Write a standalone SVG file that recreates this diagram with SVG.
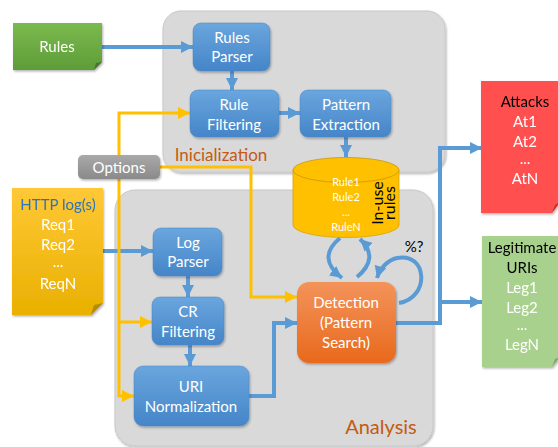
<svg xmlns="http://www.w3.org/2000/svg" width="558" height="447" viewBox="0 0 558 447">
<style>
text{font-family:Lato,"Open Sans","Liberation Sans",sans-serif;text-anchor:middle}
.w{fill:#fff;font-size:15px}
.k{fill:#000;font-size:15px}
.panel{fill:#d9d9d9;stroke:#c8c8c8;stroke-width:1}
.box{fill:url(#gBlue);stroke:#4a86c0;stroke-width:0.5}
.bl{fill:none;stroke:#5b9bd5;stroke-width:4}
.yl{fill:none;stroke:#ffc000;stroke-width:3}
.lbl{fill:#c55a11}
</style>
<defs>
<linearGradient id="gBlue" x1="0" y1="0" x2="0" y2="1"><stop offset="0" stop-color="#6aa6de"/><stop offset="1" stop-color="#4585c8"/></linearGradient>
<linearGradient id="gOr" x1="0" y1="0" x2="0" y2="1"><stop offset="0" stop-color="#f4935a"/><stop offset="1" stop-color="#e8691c"/></linearGradient>
<linearGradient id="gGr" x1="0" y1="0" x2="0" y2="1"><stop offset="0" stop-color="#7bba4f"/><stop offset="1" stop-color="#5e9c37"/></linearGradient>
<linearGradient id="gYe" x1="0" y1="0" x2="0" y2="1"><stop offset="0" stop-color="#ffc836"/><stop offset="1" stop-color="#e9b000"/></linearGradient>
<linearGradient id="gOp" x1="0" y1="0" x2="0" y2="1"><stop offset="0" stop-color="#a9a9a9"/><stop offset="1" stop-color="#8a8a8a"/></linearGradient>
<filter id="sh" x="-10%" y="-10%" width="130%" height="130%"><feDropShadow dx="1" dy="1.5" stdDeviation="1.2" flood-color="#000" flood-opacity="0.3"/></filter>
<marker id="ab" markerUnits="userSpaceOnUse" markerWidth="14" markerHeight="14" refX="12" refY="7" orient="auto"><path d="M0,1 L12,7 L0,13 Z" fill="#5b9bd5"/></marker>
<marker id="ay" markerUnits="userSpaceOnUse" markerWidth="14" markerHeight="14" refX="12" refY="7" orient="auto"><path d="M0,1 L12,7 L0,13 Z" fill="#ffc000"/></marker>
</defs>

<g id="panel-init">
<rect class="panel" x="163" y="11" width="282" height="161" rx="18" filter="url(#sh)"/>
<text class="lbl" x="221" y="161" style="font-size:17px">Inicialization</text>
</g>
<g id="panel-analysis">
<rect class="panel" x="115" y="190" width="318" height="256" rx="20" filter="url(#sh)"/>
<text class="lbl" x="381" y="434" style="font-size:20px">Analysis</text>
</g>

<g id="connectors">
<path class="bl" d="M102,47 H193" marker-end="url(#ab)"/>
<path class="bl" d="M232,71 V90" marker-end="url(#ab)"/>
<path class="bl" d="M279,113 H300" marker-end="url(#ab)"/>
<path class="bl" d="M346,137 V157" marker-end="url(#ab)"/>
<path class="bl" d="M103,251 H153" marker-end="url(#ab)"/>
<path class="bl" d="M188,276 V297" marker-end="url(#ab)"/>
<path class="bl" d="M190,345 V366" marker-end="url(#ab)"/>
<path class="bl" d="M249,396 H274 V323 H297" marker-end="url(#ab)"/>
<path class="bl" d="M396,323 H440 V148 H482" marker-end="url(#ab)"/>
<path class="bl" d="M440,302 H482" marker-end="url(#ab)"/>
<path class="bl" d="M340,238 Q316,258 342,278" marker-end="url(#ab)"/>
<path class="bl" d="M357,277 Q380,258 360,239" marker-end="url(#ab)"/>
<path class="bl" d="M399,303 C430,298 428,252 397,258 C388,260 380,268 377,278" marker-end="url(#ab)"/>
<path class="yl" d="M119,155 V113 H190" marker-end="url(#ay)"/>
<path class="yl" d="M119,179 V396 H134" marker-end="url(#ay)"/>
<path class="yl" d="M119,322 H152" marker-end="url(#ay)"/>
<path class="yl" d="M160,167 H251 V297 H297" marker-end="url(#ay)"/>
</g>

<g id="rules-note" filter="url(#sh)">
<path d="M13,23 H102 V62 L94,70 H13 Z" fill="url(#gGr)"/>
<path d="M94,70 L96,63 L102,62 Z" fill="#44762a"/>
<text class="w" x="57" y="52">Rules</text>
</g>

<g id="rules-parser">
<rect class="box" x="193" y="23" width="77" height="48" rx="8" filter="url(#sh)"/>
<text class="w" x="232" y="43">Rules</text>
<text class="w" x="232" y="62">Parser</text>
</g>
<g id="rule-filtering">
<rect class="box" x="190" y="90" width="89" height="47" rx="8" filter="url(#sh)"/>
<text class="w" x="234" y="110">Rule</text>
<text class="w" x="234" y="130">Filtering</text>
</g>
<g id="pattern-extraction">
<rect class="box" x="300" y="90" width="91" height="47" rx="8" filter="url(#sh)"/>
<text class="w" x="346" y="110">Pattern</text>
<text class="w" x="346" y="130">Extraction</text>
</g>

<g id="options">
<rect x="78" y="155" width="82" height="24" rx="5" fill="url(#gOp)" filter="url(#sh)"/>
<text class="w" x="119" y="173">Options</text>
</g>

<g id="in-use-rules">
<path d="M293,170 V225 A53,12.5 0 0 0 399,225 V170 Z" fill="#ffc000" stroke="#d9a100" stroke-width="0.8"/>
<ellipse cx="346" cy="170" rx="53" ry="12.5" fill="#ffc000" stroke="#c99700" stroke-width="0.8"/>
<text x="346" y="186" style="font-size:11px;fill:#fff">Rule1</text>
<text x="346" y="201" style="font-size:11px;fill:#fff">Rule2</text>
<text x="346" y="216" style="font-size:11px;fill:#fff">...</text>
<text x="346" y="231" style="font-size:11px;fill:#fff">RuleN</text>
<text class="k" transform="translate(383,203) rotate(-90)" style="font-size:16px">In-use</text>
<text class="k" transform="translate(395,203) rotate(-90)" style="font-size:16px">rules</text>
</g>

<g id="http-log" filter="url(#sh)">
<path d="M12,188 H103 V303 L91,315 H12 Z" fill="url(#gYe)"/>
<path d="M91,315 L94,305 L103,303 Z" fill="#b78a00"/>
<text x="58" y="210" style="font-size:15px;fill:#2e75b6">HTTP log(s)</text>
<text class="w" x="58" y="230">Req1</text>
<text class="w" x="58" y="250">Req2</text>
<text class="w" x="58" y="267">...</text>
<text class="w" x="58" y="289">ReqN</text>
</g>

<g id="log-parser">
<rect class="box" x="153" y="228" width="69" height="48" rx="8" filter="url(#sh)"/>
<text class="w" x="188" y="248">Log</text>
<text class="w" x="188" y="267">Parser</text>
</g>
<g id="cr-filtering">
<rect class="box" x="152" y="297" width="72" height="48" rx="8" filter="url(#sh)"/>
<text class="w" x="188" y="317">CR</text>
<text class="w" x="188" y="337">Filtering</text>
</g>
<g id="uri-normalization">
<rect class="box" x="134" y="366" width="115" height="60" rx="9" filter="url(#sh)"/>
<text class="w" x="191" y="392">URI</text>
<text class="w" x="191" y="412">Normalization</text>
</g>
<g id="detection">
<rect x="297" y="282" width="99" height="81" rx="12" fill="url(#gOr)" filter="url(#sh)"/>
<text class="w" x="346" y="308">Detection</text>
<text class="w" x="346" y="328">(Pattern</text>
<text class="w" x="346" y="348">Search)</text>
</g>
<text id="pct" class="k" x="414" y="252">%?</text>

<g id="attacks" filter="url(#sh)">
<path d="M481,81 H560 V202 L552,213 H481 Z" fill="#ff5050"/>
<path d="M552,213 L555,205 L560,202 Z" fill="#c03030"/>
<text class="k" x="525" y="107">Attacks</text>
<text class="w" x="525" y="127">At1</text>
<text class="w" x="525" y="147">At2</text>
<text class="w" x="525" y="164">...</text>
<text class="w" x="525" y="184">AtN</text>
</g>
<g id="legitimate" filter="url(#sh)">
<path d="M482,236 H560 V357 L552,367 H482 Z" fill="#a9d18e"/>
<path d="M552,367 L555,359 L560,357 Z" fill="#7fa866"/>
<text class="k" x="522" y="253">Legitimate</text>
<text class="k" x="522" y="273">URIs</text>
<text class="w" x="522" y="293">Leg1</text>
<text class="w" x="522" y="313">Leg2</text>
<text class="w" x="522" y="330">...</text>
<text class="w" x="522" y="350">LegN</text>
</g>
</svg>
